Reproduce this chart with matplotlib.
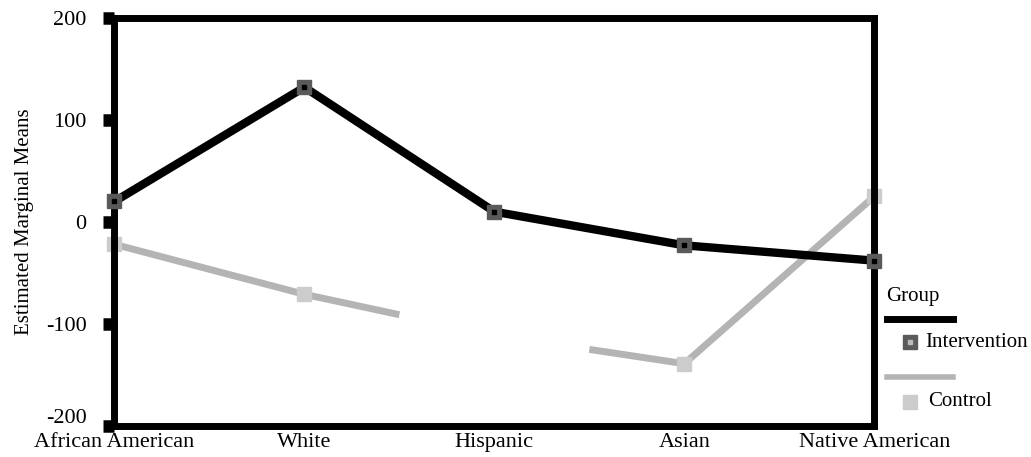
import numpy as np
import matplotlib
matplotlib.use("Agg")
import matplotlib.pyplot as plt
from matplotlib.transforms import ScaledTranslation

groups = ["African American", "White", "Hispanic", "Asian", "Native American"]
intervention = [20, 132, 10, -23, -38]
control = [-22, -71, -111, -139, 25]
yticks = [-200, -100, 0, 100, 200]

plt.rcParams['font.family'] = ['Liberation Serif', 'DejaVu Serif']

fig = plt.figure(figsize=(10.31, 4.57), dpi=100)
ax = fig.add_axes([0.111, 0.068, 0.737, 0.893])

x = np.arange(len(groups))
ax.plot(x, intervention, color='black', lw=6, solid_capstyle='butt', zorder=3)
ax.plot(x, intervention, ls='none', marker='s', ms=10, mfc='#5a5a5a', mec='#5a5a5a', zorder=4, clip_on=False)
ax.plot(x, intervention, ls='none', marker='s', ms=3, mfc='black', mec='black', zorder=5, clip_on=False)

# control line has a gap around Hispanic
gap_lo, gap_hi = 1.5, 2.5
xs_a = np.array([0, 1, gap_lo])
xs_b = np.array([gap_hi, 3, 4])
ax.plot(xs_a, np.interp(xs_a, x, control), color='#b4b4b4', lw=5, solid_capstyle='butt', zorder=2)
ax.plot(xs_b, np.interp(xs_b, x, control), color='#b4b4b4', lw=5, solid_capstyle='butt', zorder=2)
mask = [0, 1, 3, 4]
ax.plot(x[mask], np.array(control)[mask], ls='none', marker='s', ms=10, mfc='#cccccc', mec='#cccccc',
        zorder=2, clip_on=False)

ax.set_xlim(0, 4)
ax.set_ylim(-200, 200)
ax.set_xticks(x)
ax.set_xticklabels(groups, fontsize=16)
ax.set_yticks(yticks)
ax.set_yticklabels([str(v) for v in yticks], fontsize=16)
ax.tick_params(axis='x', length=0, pad=5)
ax.tick_params(axis='y', direction='out', length=8, width=9, pad=12)
for s in ax.spines.values():
    s.set_linewidth(5)
ax.set_ylabel("Estimated Marginal Means", fontsize=15)
ax.yaxis.set_label_coords(-0.106, 0.5)

# bottom y label sits a bit higher, clear of the category labels
fig.canvas.draw()
lab = ax.get_yticklabels()[0]
lab.set_transform(lab.get_transform() + ScaledTranslation(0, 7 / 72, fig.dpi_scale_trans))

# legend drawn by hand
lg = fig.add_axes([0.855, 0.05, 0.145, 0.32])
lg.set_xlim(0, 1)
lg.set_ylim(0, 1)
lg.axis('off')
lg.text(0.03, 0.94, "Group", fontsize=15, va='center')
lg.plot([0.037, 0.478], [0.79, 0.79], color='black', lw=5)
lg.plot([0.19], [0.63], marker='s', ms=10, mfc='#5a5a5a', mec='#5a5a5a')
lg.plot([0.19], [0.63], marker='s', ms=3, mfc='#bbbbbb', mec='#bbbbbb')
lg.text(0.29, 0.63, "Intervention", fontsize=15, va='center')
lg.plot([0.037, 0.478], [0.39, 0.39], color='#b4b4b4', lw=4)
lg.plot([0.19], [0.22], marker='s', ms=10, mfc='#cccccc', mec='#cccccc')
lg.text(0.31, 0.22, "Control", fontsize=15, va='center')

fig.savefig("out.png", dpi=100)
